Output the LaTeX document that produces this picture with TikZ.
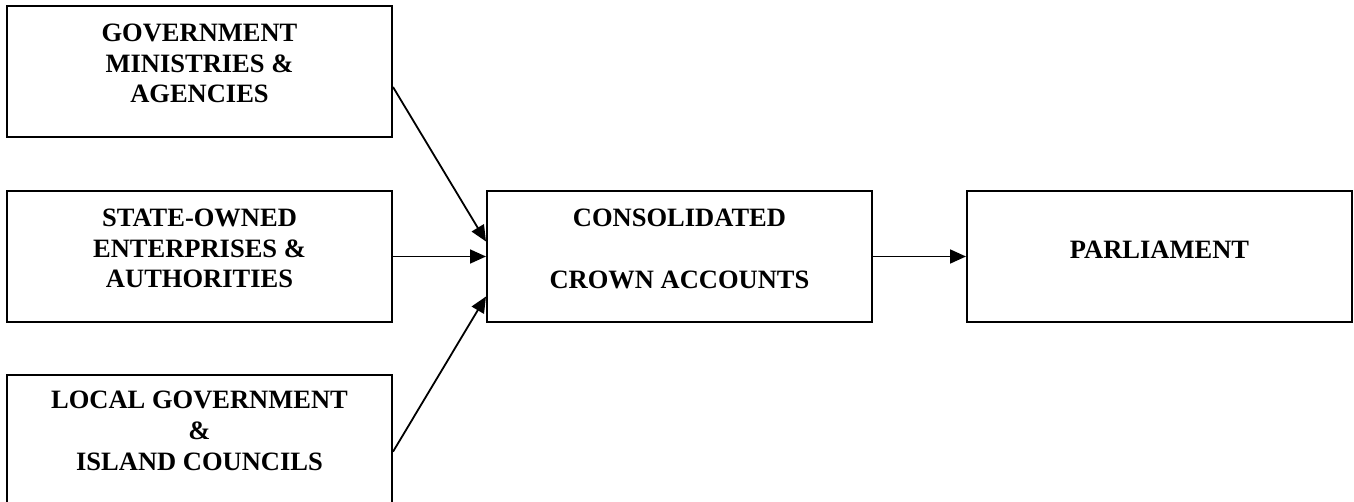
\documentclass[tikz,border=0pt]{standalone}
\usepackage{fontspec}
\setmainfont{Liberation Serif}
\usetikzlibrary{arrows.meta}
\begin{document}
\begin{tikzpicture}[x=1pt,y=-1pt,
  box/.style={draw=black,line width=2pt,minimum width=385pt,minimum height=131pt,inner sep=0pt},
  lbl/.style={font=\fontsize{26.5}{30.7}\selectfont\bfseries,align=center,anchor=base,inner sep=0pt},
  conn/.style={line width=1.8pt,-{Triangle[length=16pt,width=14pt]}}]
\useasboundingbox (0,0) rectangle (1354,502);
\begin{scope}
\clip (0,0) rectangle (1354,502);
\node[box] (b1) at (199.5,72) {};
\node[box] (b2) at (199.5,256.5) {};
\node[box] (b3) at (199.5,440) {};
\node[box] (c) at (679.5,256.5) {};
\node[box] (p) at (1159.5,256.5) {};
\end{scope}
\node[lbl] (t1) at (199.5,103) {GOVERNMENT\\MINISTRIES \&\\AGENCIES};
\node[lbl] (t2) at (199.5,288) {STATE-OWNED\\ENTERPRISES \&\\AUTHORITIES};
\node[lbl] (t3) at (199.5,470) {LOCAL GOVERNMENT\\\&\\ISLAND COUNCILS};
\node[lbl] (tc) at (679.5,288.3) {CONSOLIDATED\\[30.7pt]CROWN ACCOUNTS};
\node[lbl] (tp) at (1159.5,258.3) {PARLIAMENT};
\draw[conn] ([yshift=-15pt]b1.east) -- ([yshift=15pt]c.west);
\draw[conn] (b2.east) -- (c.west);
\draw[conn] ([yshift=-11.7pt]b3.east) -- ([yshift=-40pt]c.west);
\draw[conn] (c.east) -- (p.west);
\end{tikzpicture}
\end{document}
